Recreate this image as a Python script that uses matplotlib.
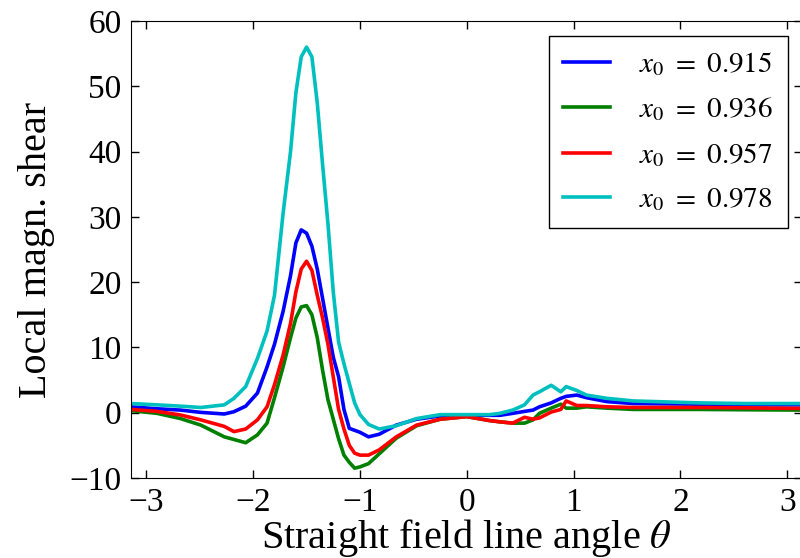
import matplotlib
matplotlib.use('Agg')
import matplotlib.pyplot as plt
import numpy as np

theta = [-3.14, -2.9, -2.68, -2.49, -2.27, -2.18, -2.07, -1.96, -1.87, -1.8,
         -1.72, -1.65, -1.6, -1.55, -1.5, -1.45, -1.4, -1.35, -1.3, -1.25,
         -1.2, -1.15, -1.1, -1.05, -1.0, -0.92, -0.82, -0.66, -0.47, -0.25,
         0.0, 0.21, 0.31, 0.43, 0.54, 0.62, 0.68, 0.79, 0.88, 0.93,
         1.03, 1.12, 1.31, 1.56, 2.18, 2.6, 3.14]

shear_915 = [0.9, 0.6, 0.4, 0.05, -0.2, 0.15, 1.0, 3.0, 7.0, 10.5,
             15.5, 21.0, 26.0, 28.0, 27.5, 25.5, 22.0, 17.5, 13.0, 8.5,
             5.5, 0.5, -2.4, -2.7, -3.0, -3.7, -3.3, -1.9, -1.0, -0.5,
             -0.4, -0.4, -0.4, -0.1, 0.2, 0.4, 0.9, 1.5, 2.2, 2.5,
             2.7, 2.3, 1.7, 1.4, 1.3, 1.2, 1.2]

shear_936 = [0.3, -0.1, -0.9, -1.9, -3.7, -4.1, -4.6, -3.4, -1.6, 2.3,
             7.0, 11.5, 14.5, 16.2, 16.4, 15.0, 11.5, 6.5, 2.0, -1.0,
             -4.0, -6.5, -7.6, -8.5, -8.3, -7.8, -6.3, -3.9, -2.0, -1.0,
             -0.6, -1.2, -1.4, -1.6, -1.6, -1.1, -0.1, 0.7, 1.3, 0.7,
             0.7, 0.9, 0.7, 0.5, 0.5, 0.45, 0.4]

shear_957 = [0.5, 0.2, -0.35, -1.1, -2.1, -2.9, -2.5, -1.1, 0.9, 4.3,
             8.8, 13.7, 18.5, 22.0, 23.2, 21.8, 18.0, 14.5, 10.5, 5.5,
             0.5, -2.5, -5.0, -6.2, -6.5, -6.5, -5.7, -3.7, -1.9, -1.0,
             -0.6, -1.2, -1.4, -1.6, -0.7, -1.0, -0.8, 0.1, 0.5, 1.8,
             1.1, 1.1, 0.9, 0.8, 0.8, 0.75, 0.65]

shear_978 = [1.4, 1.2, 1.0, 0.8, 1.2, 2.2, 4.0, 8.3, 12.5, 18.0,
             30.5, 40.0, 49.0, 54.5, 56.0, 54.5, 47.5, 38.0, 29.0, 18.5,
             10.8, 7.5, 4.5, 1.5, -0.3, -1.8, -2.5, -2.0, -0.9, -0.3,
             -0.3, -0.3, -0.1, 0.4, 1.2, 2.7, 3.2, 4.2, 3.2, 4.0,
             3.4, 2.7, 2.2, 1.8, 1.5, 1.4, 1.4]

labels = [r'$x_0\ =\ 0.915$', r'$x_0\ =\ 0.936$', r'$x_0\ =\ 0.957$', r'$x_0\ =\ 0.978$']
colors = ['b', 'g', 'r', 'c']

plt.rcParams['font.family'] = ['Liberation Serif', 'DejaVu Serif']
plt.rcParams['mathtext.fontset'] = 'stix'

fig = plt.figure(figsize=(8, 5.58), dpi=100)
ax = fig.add_axes([0.164, 0.1434, 0.839, 0.819])

for y, lab, col in zip([shear_915, shear_936, shear_957, shear_978], labels, colors):
    ax.plot(theta, y, color=col, lw=2.6, label=lab)

ax.set_xlim(-np.pi, np.pi)
ax.set_ylim(-10, 60)
ax.set_xticks([-3, -2, -1, 0, 1, 2, 3])
ax.set_yticks(range(-10, 61, 10))
ax.tick_params(direction='in', top=True, right=True, length=6, width=1,
               labelsize=24, pad=7)
ax.set_xlabel(r'Straight field line angle $\theta$', fontsize=29, labelpad=-1)
ax.set_ylabel('Local magn. shear', fontsize=29, labelpad=10)

leg = ax.legend(loc='upper right', fontsize=21, fancybox=False,
                edgecolor='k', framealpha=1, handlelength=1.6,
                labelspacing=0.6, borderpad=0.5, handletextpad=1.0)
leg.get_frame().set_linewidth(1.0)

fig.savefig('out.png', dpi=100)
